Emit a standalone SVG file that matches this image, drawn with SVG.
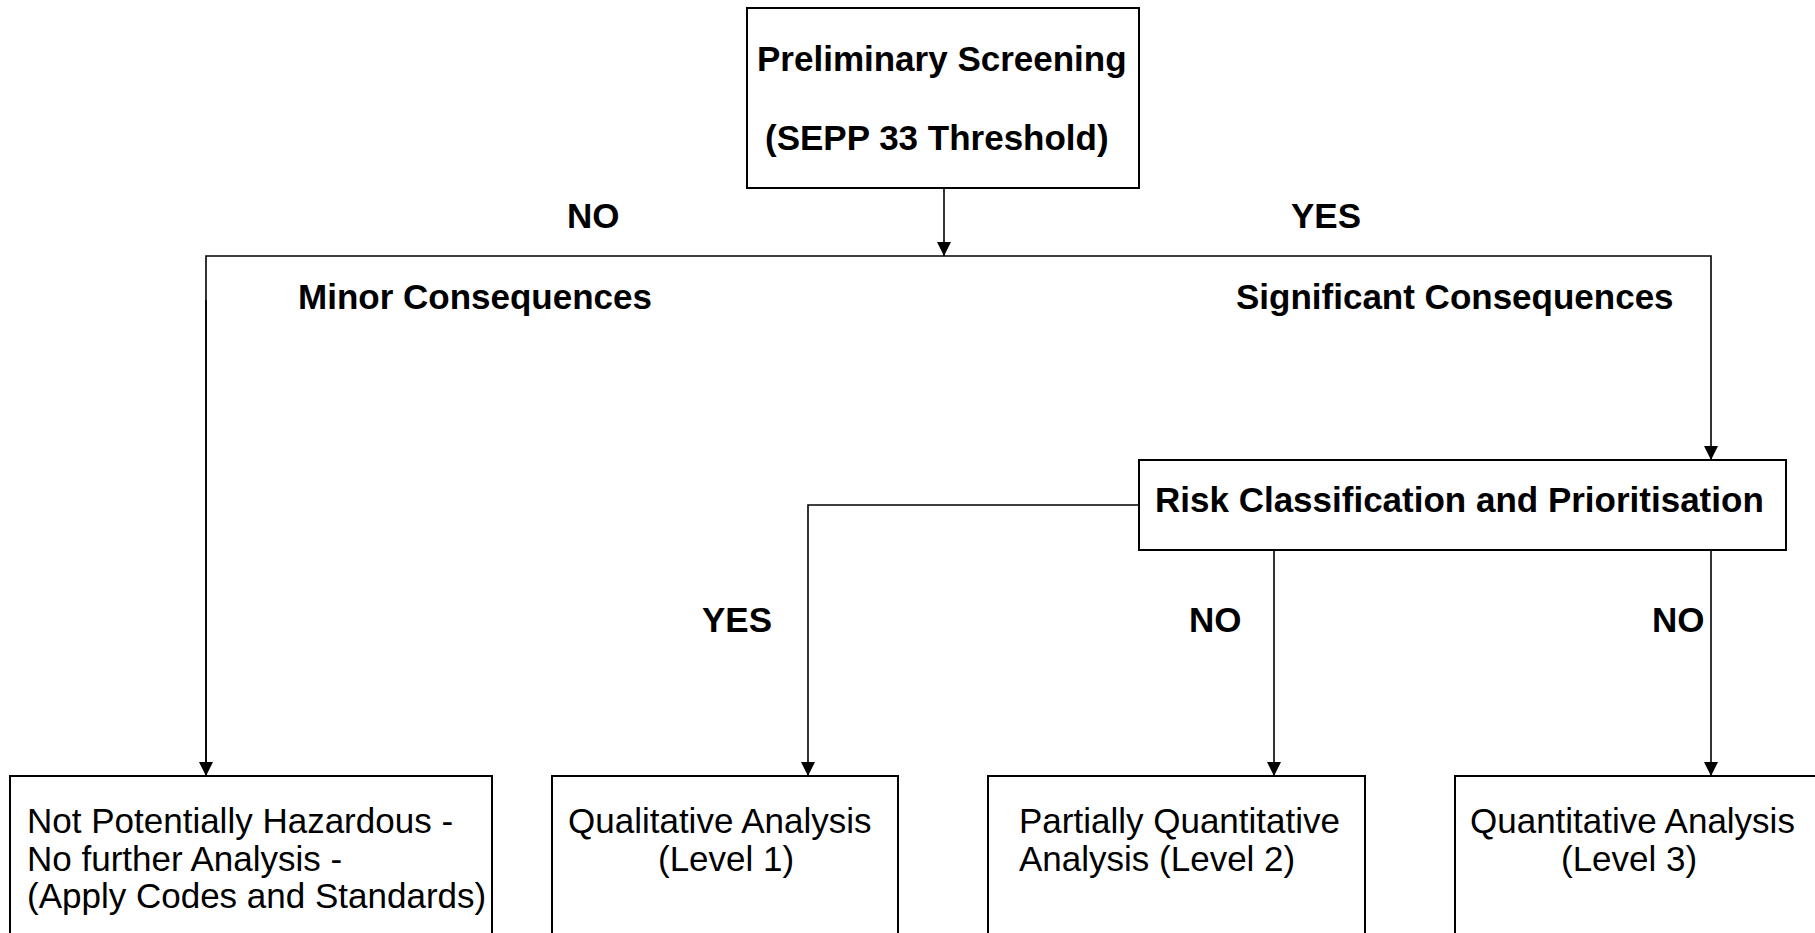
<svg xmlns="http://www.w3.org/2000/svg" width="1815" height="933" viewBox="0 0 1815 933">
<style>
.box{fill:#fff;stroke:#000;stroke-width:2}
.b{font-family:"Liberation Sans",Arial,sans-serif;font-weight:bold;font-size:35px;fill:#000}
.t{font-family:"Liberation Sans",Arial,sans-serif;font-size:35px;fill:#000}
.c{fill:none;stroke:#000;stroke-width:1.6}
</style>
<defs>
<marker id="ah" markerUnits="userSpaceOnUse" markerWidth="14" markerHeight="14" viewBox="0 0 12 12" refX="12" refY="6" orient="auto">
<path d="M0,0 L12,6 L0,12 z" fill="#000"/>
</marker>
</defs>
<rect width="1815" height="933" fill="#fff"/>
<g id="connectors">
<line class="c" x1="944" y1="188" x2="944" y2="256" marker-end="url(#ah)"/>
<polyline class="c" points="206,776 206,256 1711,256 1711,460" marker-end="url(#ah)"/>
<line class="c" x1="206" y1="300" x2="206" y2="776" marker-end="url(#ah)"/>
<polyline class="c" points="1138,505 808,505 808,776" marker-end="url(#ah)"/>
<line class="c" x1="1274" y1="550" x2="1274" y2="776" marker-end="url(#ah)"/>
<line class="c" x1="1711" y1="550" x2="1711" y2="776" marker-end="url(#ah)"/>
</g>
<g id="labels">
<text class="b" x="567" y="228">NO</text>
<text class="b" x="1291" y="228">YES</text>
<text class="b" x="298" y="309">Minor Consequences</text>
<text class="b" x="1236" y="309">Significant Consequences</text>
<text class="b" x="702" y="632">YES</text>
<text class="b" x="1189" y="632">NO</text>
<text class="b" x="1652" y="632">NO</text>
</g>
<g id="preliminary">
<rect class="box" x="747" y="8" width="392" height="180"/>
<text class="b" x="757" y="71">Preliminary Screening</text>
<text class="b" x="765" y="150">(SEPP 33 Threshold)</text>
</g>
<g id="risk">
<rect class="box" x="1139" y="460" width="647" height="90"/>
<text class="b" x="1155" y="512">Risk Classification and Prioritisation</text>
</g>
<g id="not-hazardous">
<rect class="box" x="10" y="776" width="482" height="200"/>
<text class="t" x="27" y="833">Not Potentially Hazardous -</text>
<text class="t" x="27" y="871">No further Analysis -</text>
<text class="t" x="27" y="908">(Apply Codes and Standards)</text>
</g>
<g id="level1">
<rect class="box" x="552" y="776" width="346" height="200"/>
<text class="t" x="568" y="833">Qualitative Analysis</text>
<text class="t" x="658" y="871">(Level 1)</text>
</g>
<g id="level2">
<rect class="box" x="988" y="776" width="377" height="200"/>
<text class="t" x="1019" y="833">Partially Quantitative</text>
<text class="t" x="1019" y="871">Analysis (Level 2)</text>
</g>
<g id="level3">
<rect class="box" x="1455" y="776" width="400" height="200"/>
<text class="t" x="1470" y="833">Quantitative Analysis</text>
<text class="t" x="1561" y="871">(Level 3)</text>
</g>
</svg>
